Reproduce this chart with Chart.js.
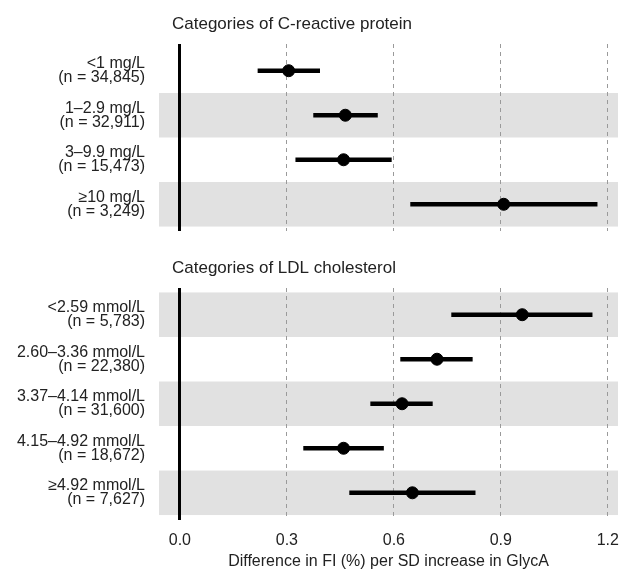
<!DOCTYPE html>
<html>
<head>
<meta charset="utf-8">
<script src="https://cdn.jsdelivr.net/npm/chart.js@4.4.1/dist/chart.umd.min.js"></script>
<style>
  body { margin: 0; background: #fff; }
  .panel { position: absolute; left: 0; width: 622px; }
</style>
</head>
<body>
<div class="panel" style="top:0;height:240px"><canvas id="crp"></canvas></div>
<div class="panel" style="top:240px;height:330px"><canvas id="ldl"></canvas></div>
<script>
// x axis
const xTicks = [0, 0.3, 0.6, 0.9, 1.2];
const xMin = -0.0585, xMax = 1.2285;

// C-reactive protein
const crpLabels = [
  ["<1 mg/L", "(n = 34,845)"],
  ["1–2.9 mg/L", "(n = 32,911)"],
  ["3–9.9 mg/L", "(n = 15,473)"],
  ["≥10 mg/L", "(n = 3,249)"]
];
const crpEst = [0.305, 0.464, 0.459, 0.908];
const crpLo = [0.219, 0.375, 0.325, 0.647];
const crpHi = [0.392, 0.554, 0.593, 1.170];
const crpShade = [0, 1, 0, 1];

// LDL cholesterol
const ldlLabels = [
  ["<2.59 mmol/L", "(n = 5,783)"],
  ["2.60–3.36 mmol/L", "(n = 22,380)"],
  ["3.37–4.14 mmol/L", "(n = 31,600)"],
  ["4.15–4.92 mmol/L", "(n = 18,672)"],
  ["≥4.92 mmol/L", "(n = 7,627)"]
];
const ldlEst = [0.960, 0.721, 0.623, 0.459, 0.652];
const ldlLo = [0.762, 0.619, 0.535, 0.347, 0.476];
const ldlHi = [1.156, 0.820, 0.708, 0.571, 0.828];
const ldlShade = [1, 0, 1, 0, 1];

const FONT = "'Liberation Sans', Arial, Helvetica, sans-serif";
const TXT = "#222";

// grey bands behind alternate rows
const bands = {
  id: "bands",
  beforeDraw(chart, args, opts) {
    const { ctx, chartArea: a, scales: { y } } = chart;
    ctx.save();
    ctx.fillStyle = "#e1e1e1";
    opts.rows.forEach((s, i) => {
      if (!s) return;
      const t = y.getPixelForValue(i + 0.5), b = y.getPixelForValue(i + 1.5);
      ctx.fillRect(a.left, Math.min(t, b), a.right - a.left, Math.abs(b - t));
    });
    ctx.restore();
  }
};

// panel heading above the plot area
const heading = {
  id: "heading",
  afterDraw(chart, args, opts) {
    const { ctx, chartArea: a } = chart;
    ctx.save();
    ctx.font = "17px " + FONT;
    ctx.fillStyle = TXT;
    ctx.textBaseline = "middle";
    ctx.fillText(opts.text, a.left + 13, a.top - 20);
    ctx.restore();
  }
};

function makeChart(id, title, labels, est, lo, hi, shade, showX) {
  const n = labels.length;
  return new Chart(document.getElementById(id), {
    type: "bar",
    data: {
      datasets: [
        {
          type: "scatter",
          data: est.map((v, i) => ({ x: v, y: i + 1 })),
          backgroundColor: "#000",
          borderColor: "#000",
          pointRadius: 6,
          pointHoverRadius: 6,
          order: 0
        },
        {
          type: "bar",
          indexAxis: "y",
          data: lo.map((v, i) => ({ y: i + 1, x: [v, hi[i]] })),
          backgroundColor: "#000",
          barThickness: 4,
          grouped: false,
          order: 1
        }
      ]
    },
    options: {
      responsive: true,
      maintainAspectRatio: false,
      animation: false,
      layout: {
        autoPadding: false,
        padding: showX ? { top: 48, left: 0, right: 4, bottom: 0 } : { top: 44, left: 0, right: 4, bottom: 9 }
      },
      plugins: {
        legend: { display: false },
        tooltip: { enabled: false },
        bands: { rows: shade },
        heading: { text: title }
      },
      scales: {
        x: {
          type: "linear",
          offset: false,
          min: xMin,
          max: xMax,
          afterBuildTicks: s => { s.ticks = xTicks.map(v => ({ value: v })); },
          afterFit: s => {
            s.height = showX ? 50.5 : 0;
            s.paddingLeft = 0;
            s.paddingRight = 0;
          },
          ticks: {
            display: showX,
            padding: 11,
            color: TXT,
            font: { family: FONT, size: 16 },
            callback: v => v.toFixed(1)
          },
          grid: {
            offset: false,
            drawTicks: false,
            color: c => (c.tick && c.tick.value === 0 ? "#000" : "#9a9a9a"),
            lineWidth: c => (c.tick && c.tick.value === 0 ? 3 : 1)
          },
          border: {
            display: false,
            dash: c => (c.tick && c.tick.value === 0 ? [] : [4, 4])
          },
          title: {
            display: showX,
            text: "Difference in FI (%) per SD increase in GlycA",
            color: TXT,
            font: { family: FONT, size: 16, lineHeight: 1 },
            padding: 0
          }
        },
        y: {
          type: "linear",
          offset: false,
          reverse: true,
          min: 0.4,
          max: n + 0.6,
          afterBuildTicks: s => { s.ticks = labels.map((l, i) => ({ value: i + 1 })); },
          afterFit: s => {
            s.width = 159;
            s.paddingTop = 0;
            s.paddingBottom = 0;
          },
          ticks: {
            autoSkip: false,
            padding: 14,
            color: TXT,
            font: { family: FONT, size: 16, lineHeight: 0.875 },
            callback: v => labels[v - 1]
          },
          grid: { display: false, drawTicks: false, offset: false },
          border: { display: false }
        }
      }
    },
    plugins: [bands, heading]
  });
}

makeChart("crp", "Categories of C-reactive protein", crpLabels, crpEst, crpLo, crpHi, crpShade, false);
makeChart("ldl", "Categories of LDL cholesterol", ldlLabels, ldlEst, ldlLo, ldlHi, ldlShade, true);
</script>
</body>
</html>
